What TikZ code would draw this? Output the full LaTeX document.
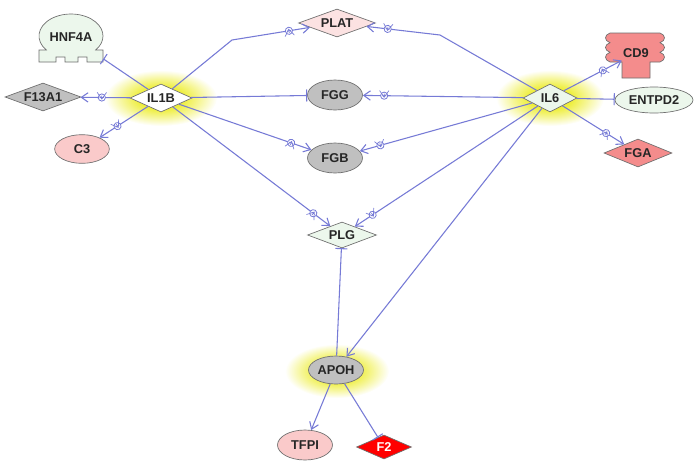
\documentclass[tikz,border=0pt]{standalone}
\usepackage{fontspec}
\setmainfont{Liberation Sans}
\usetikzlibrary{shapes.geometric,arrows.meta,decorations.markings}
\definecolor{edgec}{RGB}{118,122,214}
\definecolor{greyf}{RGB}{192,192,192}
\definecolor{greenf}{RGB}{236,247,236}
\definecolor{pinkf}{RGB}{250,202,202}
\definecolor{platf}{RGB}{252,226,226}
\definecolor{salmonf}{RGB}{244,140,140}
\definecolor{redf}{RGB}{255,0,0}
\definecolor{bord}{RGB}{110,110,110}
\definecolor{glowc}{RGB}{238,238,60}
\pgfdeclareradialshading{glowsh}{\pgfpoint{0bp}{0bp}}{color(0bp)=(glowc); color(10bp)=(glowc); color(17bp)=(glowc!55!white); color(25bp)=(white); color(50bp)=(white)}
\begin{document}
\begin{tikzpicture}[x=0.75pt,y=-0.75pt, font=\fontsize{9.6}{11}\selectfont\bfseries,
 gene/.style={draw=bord, line width=0.5pt, inner sep=0pt, text=black!85},
 dia/.style={gene, diamond, shape aspect=2.5},
 ell/.style={gene, ellipse},
 edge/.style={draw=edgec, line width=0.8pt},
 act/.style={edge, -{Straight Barb[length=5pt,width=7pt]}},
 tee/.style={edge, -{Bar[width=9pt]}},
 plus/.style={postaction={decorate, decoration={markings, mark=at position -16pt with {\draw[edgec, line width=0.6pt, fill=white] (0,0) circle (2.7pt); \draw[edgec, line width=0.5pt] (-1.6pt,0)--(1.6pt,0) (0,-1.6pt)--(0,1.6pt);}}}},
 glow/.style={shading=glowsh}
]
\fill[white] (0,0) rectangle (694,462);
\useasboundingbox (0,0) rectangle (694,462);

% glows
\shade[glow] (161,98) ellipse [x radius=56, y radius=28];
\shade[glow] (550,98) ellipse [x radius=54, y radius=28];
\shade[glow] (337,371) ellipse [x radius=52, y radius=27];

% HNF4A custom shape
\filldraw[fill=greenf, draw=bord, line width=0.5pt]
  (39,62) -- (39,50) -- (46.3,50) arc[start angle=140.5, end angle=399.5, x radius=32, y radius=22]
  -- (103,50) -- (103,62) -- (87,62) -- (87,57) -- (78,57) -- (78,62) -- (65,62) -- (65,57) -- (56,57) -- (56,62) -- cycle;
\node[inner sep=0pt, minimum width=48pt, minimum height=36pt, text=black!85] (hnf) at (71,37) {HNF4A};

% CD9 custom shape
\filldraw[fill=salmonf, draw=bord, line width=0.5pt]
  (622,78) -- (622,62) -- (610,62)
  .. controls (604,60) and (604,54.3) .. (610,52.3)
  .. controls (604,50.3) and (604,44.7) .. (610,42.7)
  .. controls (604,40.7) and (604,35) .. (610,33)
  -- (660,33)
  .. controls (666,35) and (666,40.7) .. (660,42.7)
  .. controls (666,44.7) and (666,50.3) .. (660,52.3)
  .. controls (666,54.3) and (666,60) .. (660,62)
  -- (650,62) -- (650,78) -- cycle;
\node[inner sep=0pt, minimum width=21pt, minimum height=37pt, text=black!85] (cd9) at (636,53) {CD9};

% nodes
\node[dia, fill=white, minimum width=46.5pt, minimum height=21pt] (il1b) at (161,98) {IL1B};
\node[dia, fill=greyf, minimum width=57pt, minimum height=21pt] (f13a1) at (43,97) {F13A1};
\node[ell, fill=pinkf, minimum width=41pt, minimum height=21.5pt] (c3) at (82,149) {C3};
\node[dia, fill=platf, minimum width=57.75pt, minimum height=21pt] (plat) at (337,23) {PLAT};
\node[ell, fill=greyf, minimum width=41.25pt, minimum height=22.5pt] (fgg) at (335,95) {FGG};
\node[ell, fill=greyf, minimum width=41.25pt, minimum height=22.5pt] (fgb) at (335,158) {FGB};
\node[dia, fill=greenf, minimum width=40.5pt, minimum height=21pt] (il6) at (550,98) {IL6};
\node[ell, fill=greenf, minimum width=58.5pt, minimum height=19.5pt] (entpd2) at (654,100) {ENTPD2};
\node[dia, fill=salmonf, minimum width=51pt, minimum height=21pt] (fga) at (638,153) {FGA};
\node[dia, fill=greenf, minimum width=51.75pt, minimum height=19.5pt] (plg) at (342,235) {PLG};
\node[ell, fill=greyf, minimum width=41.25pt, minimum height=21pt] (apoh) at (336,370) {APOH};
\node[ell, fill=pinkf, minimum width=41.25pt, minimum height=22.5pt] (tfpi) at (305,445) {TFPI};
\node[dia, fill=redf, text=white, minimum width=41.25pt, minimum height=18pt] (f2) at (384,447) {F2};

\coordinate (b1) at (232,40);
\coordinate (b2) at (440,35);

% edges from IL1B
\draw[tee] (il1b) -- (hnf);
\draw[act,plus] (il1b) -- (f13a1);
\draw[act,plus] (il1b) -- (c3);
\draw[act,plus] (il1b) -- (b1) -- (plat);
\draw[tee] (il1b) -- (fgg);
\draw[act,plus] (il1b) -- (fgb);
\draw[act,plus] (il1b) -- (plg);

% edges from IL6
\draw[act,plus] (il6) -- (b2) -- (plat);
\draw[act,plus] (il6) -- (fgg);
\draw[act,plus] (il6) -- (fgb);
\draw[act,plus] (il6) -- (plg);
\draw[act] (il6) -- (apoh);
\draw[act,plus] (il6) -- (cd9);
\draw[tee] (il6) -- (entpd2);
\draw[act,plus] (il6) -- (fga);

% edges from APOH
\draw[tee] (apoh) -- (plg);
\draw[act] (apoh) -- (tfpi);
\draw[tee] (apoh) -- (f2);
\end{tikzpicture}
\end{document}
